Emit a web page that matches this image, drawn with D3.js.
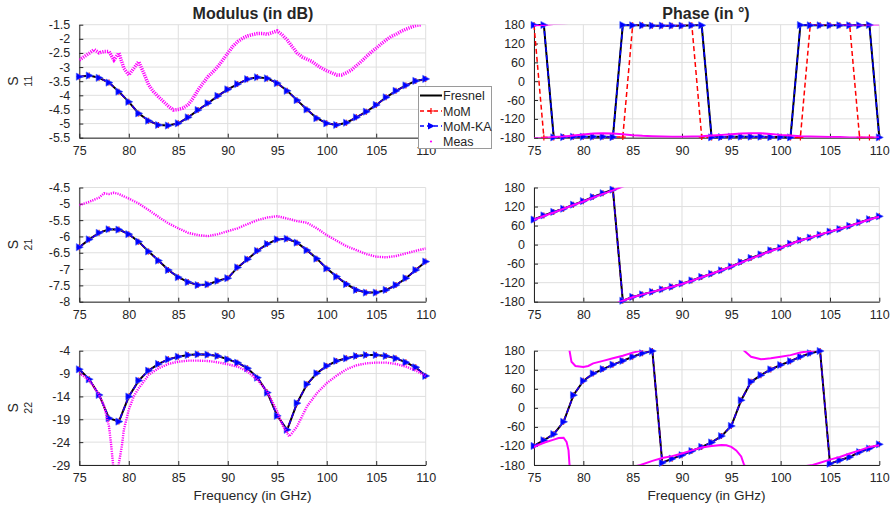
<!DOCTYPE html>
<html><head><meta charset="utf-8">
<script src="https://cdn.jsdelivr.net/npm/d3@7"></script>
<style>
body{margin:0;background:#fff}
text{font-family:"Liberation Sans",Arial,Helvetica,sans-serif;fill:#262626}
</style>
</head><body>
<svg id="c" width="894" height="507"></svg>
<script>
// ---------- data ----------
const freq = [75,76,77,78,79,80,81,82,83,84,85,86,87,88,89,90,91,92,93,94,95,96,97,98,99,100,101,102,103,104,105,106,107,108,109,110];
const xTicks = [75,80,85,90,95,100,105,110];
const phaseTicks = [-180,-120,-60,0,60,120,180];
const s11ModTicks = [-5.5,-5,-4.5,-4,-3.5,-3,-2.5,-2,-1.5];
const s21ModTicks = [-8,-7.5,-7,-6.5,-6,-5.5,-5,-4.5];
const s22ModTicks = [-29,-24,-19,-14,-9,-4];
const seriesNames = ["Fresnel","MoM","MoM-KA","Meas"];

// S11 modulus (dB)
const fresnelS11Mod = [-3.34,-3.30,-3.38,-3.55,-3.87,-4.23,-4.64,-4.90,-5.05,-5.07,-4.99,-4.78,-4.52,-4.28,-4.02,-3.79,-3.60,-3.43,-3.36,-3.40,-3.57,-3.84,-4.17,-4.50,-4.81,-4.99,-5.05,-4.97,-4.78,-4.58,-4.34,-4.07,-3.84,-3.65,-3.49,-3.42];
const momS11Mod = fresnelS11Mod;
const momkaS11Mod = fresnelS11Mod;
const measS11ModFreq = [75,75.5,76,76.5,77,77.5,78,78.5,79,79.5,80,80.5,81,81.5,82,82.5,83,83.5,84,84.5,85,85.5,86,86.5,87,87.5,88,88.5,89,89.5,90,90.5,91,91.5,92,92.5,93,93.5,94,94.5,95,95.5,96,96.5,97,97.5,98,98.5,99,99.5,100,100.5,101,101.5,102,102.5,103,103.5,104,104.5,105,105.5,106,106.5,107,107.5,108,108.5,109,109.5];
const measS11Mod = [-2.75,-2.63,-2.51,-2.38,-2.50,-2.45,-2.45,-2.75,-2.50,-3.04,-3.28,-3.05,-2.81,-3.20,-3.63,-3.87,-4.05,-4.22,-4.38,-4.52,-4.50,-4.45,-4.33,-4.10,-3.81,-3.57,-3.34,-3.17,-2.98,-2.75,-2.51,-2.27,-2.10,-1.98,-1.90,-1.85,-1.81,-1.81,-1.84,-1.78,-1.72,-1.86,-2.04,-2.27,-2.50,-2.64,-2.72,-2.80,-2.93,-3.04,-3.13,-3.20,-3.28,-3.28,-3.20,-3.10,-2.95,-2.80,-2.63,-2.47,-2.33,-2.18,-2.04,-1.92,-1.84,-1.74,-1.66,-1.59,-1.53,-1.50];

// S21 modulus (dB)
const fresnelS21Mod = [-6.33,-6.09,-5.89,-5.78,-5.79,-5.93,-6.16,-6.46,-6.74,-7.03,-7.25,-7.40,-7.49,-7.47,-7.36,-7.28,-6.95,-6.70,-6.44,-6.23,-6.09,-6.07,-6.19,-6.42,-6.68,-6.98,-7.23,-7.46,-7.64,-7.72,-7.72,-7.64,-7.49,-7.28,-7.03,-6.77];
const momS21Mod = fresnelS21Mod;
const momkaS21Mod = fresnelS21Mod;
const measS21ModFreq = [75,76,77,77.5,78,78.5,79,79.5,80,81,82,83,84,85,86,87,88,89,90,91,92,93,94,95,96,97,98,99,100,101,102,103,104,105,106,107,108,109,110];
const measS21Mod = [-5.04,-4.94,-4.81,-4.68,-4.70,-4.66,-4.70,-4.77,-4.84,-4.99,-5.19,-5.40,-5.60,-5.75,-5.89,-5.96,-5.99,-5.93,-5.84,-5.75,-5.62,-5.50,-5.42,-5.38,-5.45,-5.53,-5.58,-5.75,-5.96,-6.13,-6.30,-6.42,-6.54,-6.62,-6.64,-6.60,-6.52,-6.44,-6.37];

// S22 modulus (dB)
const fresnelS22Mod = [-8.07,-10.25,-13.67,-18.75,-19.50,-14.03,-10.54,-8.36,-6.90,-5.89,-5.31,-4.94,-4.80,-4.87,-5.16,-5.89,-6.62,-7.85,-9.89,-13.16,-18.24,-21.30,-15.48,-11.34,-8.94,-7.34,-6.25,-5.67,-5.16,-4.94,-4.94,-5.16,-5.67,-6.54,-7.63,-9.52];
const momS22Mod = fresnelS22Mod;
const momkaS22Mod = fresnelS22Mod;
const measS22ModFreq = [75,75.5,76,76.5,77,77.5,78,78.2,78.4,78.6,78.8,79,79.3,79.5,80,80.5,81,81.5,82,83,84,85,86,87,88,89,90,91,92,93,94,95,95.5,96,96.2,96.5,97,97.5,98,99,100,101,102,103,104,105,106,107,108,109,110];
const measS22Mod = [-8.94,-9.67,-10.54,-12.0,-13.67,-16.06,-20.57,-24.2,-28.6,-34.0,-33.0,-28.6,-24.9,-21.3,-16.9,-14.0,-12.2,-10.8,-9.3,-7.85,-6.90,-6.40,-6.18,-6.18,-6.25,-6.54,-6.98,-7.49,-8.58,-10.4,-12.94,-17.3,-20.2,-22.0,-22.75,-22.0,-20.57,-18.4,-16.2,-13.3,-11.1,-9.45,-8.07,-7.20,-6.76,-6.60,-6.60,-6.90,-7.49,-8.36,-9.52];

// S11 phase (deg)
const fresnelS11Ph = [179,179,-179,-178,-177,-177,-177,-177,-178,179,178,178,177,177,177,177,178,178,-179,-178,-177,-177,-177,-177,-178,-178,-179,179,178,178,178,178,178,178,179,-179];
const momS11Ph = [179,-179,-179,-178,-177,-177,-177,-177,-178,-178,178,178,177,177,177,177,178,-178,-179,-178,-177,-177,-177,-177,-178,-178,-179,-179,179,178,178,178,178,-179,-179,-179];
const momkaS11Ph = fresnelS11Ph;
const measS11PhFreq = [75,76,76.5,77,78,79,80,81,82,83,84,85,86,87,88,89,90,91,92,93,94,95,96,97,98,99,100,101,102,103,104,105,106,107,108,109,110];
const measS11Ph = [178,179,-179,-178,-176,-173,-170,-167,-166,-167,-169,-172,-174,-175,-176,-177,-177,-176,-175,-173,-171,-169,-167,-166,-166,-168,-171,-173,-175,-176,-177,-178,-178,-179,-179,-179,-179];

// S21 phase (deg)
const fresnelS21Ph = [79,92,103,113,126,137,150,162,173,-177,-165,-157,-149,-141,-133,-123,-113,-102,-92,-81,-69,-55,-42,-31,-18,-10,3,14,22,31,41,49,59,70,80,89];
const momS21Ph = fresnelS21Ph;
const momkaS21Ph = fresnelS21Ph;
const measS21PhFreq = freq;
const measS21Ph = [78,90,101,113,125,136,148,160,171,-177,-166,-157,-149,-141,-133,-124,-114,-103,-92,-81,-69,-57,-44,-32,-20,-10,2,13,22,32,41,50,59,69,79,88];

// S22 phase (deg)
const fresnelS22Ph = [-120,-102,-83,-44,40,85,108,122,136,148,161,172,179,-173,-160,-149,-136,-123,-109,-89,-57,24,82,103,121,135,147,161,172,179,-176,-165,-155,-139,-128,-115];
const momS22Ph = fresnelS22Ph;
const momkaS22Ph = fresnelS22Ph;
const measS22PhFreq = [75,76,77,77.5,78,78.3,78.5,78.6,78.8,79.2,80,80.5,81,82,83,84,85,85.8,87,88,89,90,91,92,93,94,94.5,95,95.5,96,96.3,97,98,99,100,101,102,103.25,104,105,106,107,108,109,110];
const measS22Ph = [-123,-110,-100,-95,-94,-107,-134,-180,145,132,129,132,140,148,156,164,174,180,-167,-158,-152,-144,-134,-125,-120,-117,-118,-123,-134,-153,-180,161,153,156,161,166,174,180,-173,-163,-155,-144,-134,-123,-118];

// ---------- layout ----------
const svg = d3.select("#c");
const colX = [[79.3,425.7],[534,879.3]];
const rowY = [[24.7,137.7],[187.5,301.7],[350.7,465]];
const colors = {fresnel:"#000000", mom:"#ff0000", momka:"#0000ff", meas:"#ff00ff"};

const panels = [
  {c:0,r:0,dom:[-5.5,-1.5],ticks:s11ModTicks,f:fresnelS11Mod,m:momS11Mod,k:momkaS11Mod,mf:measS11ModFreq,mv:measS11Mod,phase:false,lab:"11"},
  {c:0,r:1,dom:[-8,-4.5],ticks:s21ModTicks,f:fresnelS21Mod,m:momS21Mod,k:momkaS21Mod,mf:measS21ModFreq,mv:measS21Mod,phase:false,lab:"21"},
  {c:0,r:2,dom:[-29,-4],ticks:s22ModTicks,f:fresnelS22Mod,m:momS22Mod,k:momkaS22Mod,mf:measS22ModFreq,mv:measS22Mod,phase:false,lab:"22"},
  {c:1,r:0,dom:[-180,180],ticks:phaseTicks,f:fresnelS11Ph,m:momS11Ph,k:momkaS11Ph,mf:measS11PhFreq,mv:measS11Ph,phase:true},
  {c:1,r:1,dom:[-180,180],ticks:phaseTicks,f:fresnelS21Ph,m:momS21Ph,k:momkaS21Ph,mf:measS21PhFreq,mv:measS21Ph,phase:true},
  {c:1,r:2,dom:[-180,180],ticks:phaseTicks,f:fresnelS22Ph,m:momS22Ph,k:momkaS22Ph,mf:measS22PhFreq,mv:measS22Ph,phase:true}
];

function unwrap(v){
  const out=[v[0]];
  for(let i=1;i<v.length;i++){let d=v[i]-v[i-1]; d-=360*Math.round(d/360); out.push(out[i-1]+d);}
  return out;
}
const triPath = "M-3,-3.6L4,0L-3,3.6Z";

panels.forEach((p,i)=>{
  const x = d3.scaleLinear().domain([75,110]).range(colX[p.c]);
  const y = d3.scaleLinear().domain(p.dom).range([rowY[p.r][1],rowY[p.r][0]]);
  const g = svg.append("g");
  const x0=colX[p.c][0], x1=colX[p.c][1], y0=rowY[p.r][0], y1=rowY[p.r][1];
  const clipId="clip"+i;
  svg.append("clipPath").attr("id",clipId).append("rect").attr("x",x0).attr("y",y0).attr("width",x1-x0).attr("height",y1-y0);

  // grid
  g.append("g").selectAll("line").data(xTicks).join("line")
    .attr("x1",d=>x(d)).attr("x2",d=>x(d)).attr("y1",y0).attr("y2",y1)
    .attr("stroke","#dfdfdf").attr("stroke-width",1);
  g.append("g").selectAll("line").data(p.ticks).join("line")
    .attr("x1",x0).attr("x2",x1).attr("y1",d=>y(d)).attr("y2",d=>y(d))
    .attr("stroke","#dfdfdf").attr("stroke-width",1);

  // axes
  const ax = g.append("g").attr("transform",`translate(0,${y1})`)
    .call(d3.axisBottom(x).tickValues(xTicks).tickSizeInner(-4).tickSizeOuter(0).tickPadding(8));
  const ay = g.append("g").attr("transform",`translate(${x0},0)`)
    .call(d3.axisLeft(y).tickValues(p.ticks).tickFormat(d=>String(d)).tickSizeInner(-4).tickSizeOuter(0).tickPadding(9));
  [ax,ay].forEach(a=>{
    a.select(".domain").attr("stroke","#262626").attr("stroke-width",1);
    a.selectAll(".tick line").attr("stroke","#262626");
    a.selectAll("text").attr("font-size","12.5px").attr("fill","#262626").style("font-family",'"Liberation Sans",Arial,sans-serif');
  });

  const line = d3.line().x((d,j)=>x(freq[j])).y(d=>y(d));
  const dg = g.append("g");
  dg.append("path").attr("d",line(p.f)).attr("fill","none").attr("stroke",colors.fresnel).attr("stroke-width",2);
  dg.append("path").attr("d",line(p.m)).attr("fill","none").attr("stroke",colors.mom).attr("stroke-width",1.5).attr("stroke-dasharray","5,3");
  dg.append("g").selectAll("path").data(p.m).join("path")
    .attr("d","M-3,0H3M0,-3V3").attr("transform",(d,j)=>`translate(${x(freq[j])},${y(d)})`)
    .attr("stroke",colors.mom).attr("stroke-width",1.2);
  dg.append("path").attr("d",line(p.k)).attr("fill","none").attr("stroke",colors.momka).attr("stroke-width",1.5).attr("stroke-dasharray","5,3");
  dg.append("g").selectAll("path").data(p.k).join("path")
    .attr("d",triPath).attr("transform",(d,j)=>`translate(${x(freq[j])},${y(d)})`)
    .attr("fill","#0000ff").attr("stroke","#4466ff").attr("stroke-width",0.6);

  // measurement
  const mg = g.append("g").attr("clip-path",`url(#${clipId})`);
  const mline = d3.line().x((d,j)=>x(p.mf[j])).y(d=>y(d));
  if(p.phase){
    const uw = unwrap(p.mv);
    [-360,0,360].forEach(off=>{
      mg.append("path").attr("d",d3.line().x((d,j)=>x(p.mf[j])).y(d=>y(d+off))(uw))
        .attr("fill","none").attr("stroke",colors.meas).attr("stroke-width",2);
    });
  } else {
    mg.append("path").attr("d",mline(p.mv)).attr("fill","none").attr("stroke",colors.meas)
      .attr("stroke-width",p.r===0?3.5:2.4).attr("stroke-dasharray","1.2,1.1");
  }

  // y label
  if(p.lab){
    const cy=(y0+y1)/2;
    svg.append("text").attr("transform",`translate(18,${cy}) rotate(-90)`).attr("text-anchor","middle")
      .attr("font-size","14px").text("S");
    svg.append("text").attr("transform",`translate(32,${cy}) rotate(-90)`).attr("text-anchor","middle")
      .attr("font-size","10.5px").text(p.lab);
  }
});

// titles and x labels
svg.append("text").attr("x",253).attr("y",19).attr("text-anchor","middle").attr("font-size","16px").attr("font-weight","bold").text("Modulus (in dB)");
svg.append("text").attr("x",706).attr("y",19).attr("text-anchor","middle").attr("font-size","16px").attr("font-weight","bold").text("Phase (in \u00b0)");
svg.append("text").attr("x",252.5).attr("y",500).attr("text-anchor","middle").attr("font-size","13.5px").text("Frequency (in GHz)");
svg.append("text").attr("x",706.5).attr("y",500).attr("text-anchor","middle").attr("font-size","13.5px").text("Frequency (in GHz)");

// legend
const lg = svg.append("g");
lg.append("rect").attr("x",418.5).attr("y",86.5).attr("width",73).attr("height",62).attr("fill","#fff").attr("stroke","#9a9a9a").attr("stroke-width",1);
const ly = [95.5,111,126,141.5];
const lkeys = ["fresnel","mom","momka","meas"];
seriesNames.forEach((n,i)=>{
  const k=lkeys[i], yy=ly[i];
  if(k==="fresnel") lg.append("line").attr("x1",420).attr("x2",442).attr("y1",yy).attr("y2",yy).attr("stroke","#000").attr("stroke-width",2);
  if(k==="mom"){
    lg.append("line").attr("x1",420).attr("x2",442).attr("y1",yy).attr("y2",yy).attr("stroke",colors.mom).attr("stroke-width",1.5).attr("stroke-dasharray","4,3");
    lg.append("path").attr("d","M-3,0H3M0,-3V3").attr("transform",`translate(431,${yy})`).attr("stroke",colors.mom).attr("stroke-width",1.2);
  }
  if(k==="momka"){
    lg.append("line").attr("x1",420).attr("x2",442).attr("y1",yy).attr("y2",yy).attr("stroke",colors.momka).attr("stroke-width",1.5).attr("stroke-dasharray","4,3");
    lg.append("path").attr("d",triPath).attr("transform",`translate(431,${yy})`).attr("fill","#0000ff");
  }
  if(k==="meas") lg.append("circle").attr("cx",431).attr("cy",yy).attr("r",1.1).attr("fill",colors.meas);
  lg.append("text").attr("x",443).attr("y",yy+4.5).attr("font-size","12.5px").text(n);
});
</script>
</body></html>
